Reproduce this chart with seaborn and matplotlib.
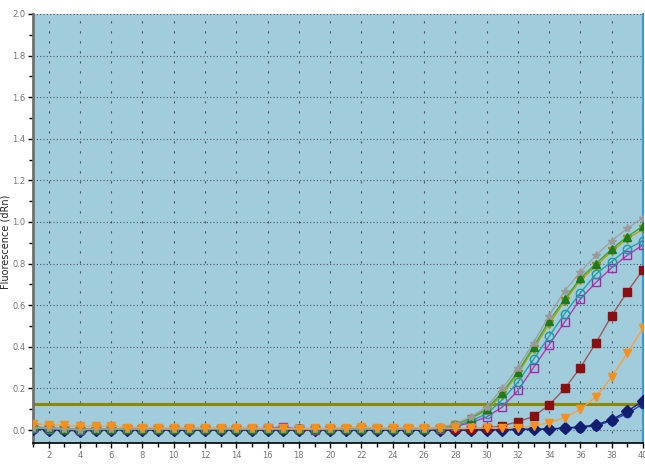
import matplotlib
matplotlib.use('Agg')
import matplotlib.pyplot as plt
import seaborn as sns
import pandas as pd
from matplotlib.ticker import MultipleLocator

cycles = list(range(1, 41))

gray_vals = [0.012, 0.008, 0.006, 0.002, 0.004, 0.006, 0.004, 0.004, 0.004, 0.004,
             0.004, 0.005, 0.005, 0.004, 0.004, 0.003, 0.006, 0.004, 0.003, 0.004,
             0.004, 0.005, 0.005, 0.004, 0.004, 0.005, 0.012, 0.030, 0.063, 0.110,
             0.200, 0.300, 0.420, 0.550, 0.670, 0.760, 0.840, 0.910, 0.970, 1.020]
green_vals = [0.015, 0.010, 0.006, 0.003, 0.005, 0.006, 0.004, 0.004, 0.004, 0.004,
              0.004, 0.004, 0.005, 0.004, 0.004, 0.003, 0.005, 0.004, 0.003, 0.004,
              0.004, 0.004, 0.005, 0.004, 0.004, 0.005, 0.010, 0.028, 0.058, 0.100,
              0.180, 0.280, 0.400, 0.525, 0.630, 0.730, 0.800, 0.870, 0.930, 0.980]
olive_vals = [0.014, 0.009, 0.006, 0.003, 0.004, 0.005, 0.004, 0.004, 0.004, 0.004,
              0.004, 0.004, 0.004, 0.004, 0.004, 0.003, 0.005, 0.004, 0.003, 0.004,
              0.004, 0.004, 0.004, 0.004, 0.004, 0.004, 0.010, 0.025, 0.055, 0.095,
              0.170, 0.270, 0.390, 0.510, 0.620, 0.720, 0.790, 0.860, 0.920, 0.965]
cyan_vals = [0.010, 0.007, 0.005, 0.001, 0.004, 0.005, 0.004, 0.004, 0.004, 0.004,
             0.004, 0.004, 0.004, 0.004, 0.004, 0.003, 0.005, 0.004, 0.003, 0.004,
             0.004, 0.004, 0.004, 0.004, 0.004, 0.004, 0.008, 0.020, 0.045, 0.077,
             0.145, 0.230, 0.340, 0.450, 0.560, 0.660, 0.750, 0.810, 0.870, 0.910]
magenta_vals = [0.008, 0.006, 0.004, 0.000, 0.003, 0.004, 0.003, 0.003, 0.003, 0.003,
                0.003, 0.004, 0.004, 0.003, 0.003, 0.008, 0.015, 0.003, 0.002, 0.003,
                0.003, 0.004, 0.004, 0.003, 0.003, 0.004, 0.006, 0.018, 0.035, 0.063,
                0.110, 0.190, 0.300, 0.410, 0.520, 0.630, 0.710, 0.780, 0.840, 0.890]
darkred_vals = [0.012, 0.008, 0.005, 0.002, 0.004, 0.005, 0.004, 0.004, 0.004, 0.004,
                0.004, 0.004, 0.004, 0.004, 0.004, 0.003, 0.005, 0.004, 0.003, 0.004,
                0.004, 0.004, 0.004, 0.004, 0.004, 0.004, 0.004, 0.005, 0.006, 0.010,
                0.020, 0.040, 0.065, 0.120, 0.200, 0.300, 0.420, 0.550, 0.665, 0.770]
orange_vals = [0.030, 0.025, 0.022, 0.018, 0.018, 0.020, 0.012, 0.012, 0.010, 0.010,
               0.010, 0.010, 0.010, 0.010, 0.010, 0.008, 0.008, 0.006, 0.008, 0.008,
               0.012, 0.014, 0.010, 0.010, 0.012, 0.010, 0.010, 0.008, 0.008, 0.010,
               0.010, 0.012, 0.020, 0.035, 0.060, 0.100, 0.160, 0.255, 0.370, 0.490]
navy_vals = [0.005, 0.002, 0.000, -0.005, 0.000, 0.002, 0.000, 0.000, 0.000, 0.000,
             0.000, 0.000, 0.000, 0.000, 0.000, 0.000, 0.000, 0.000, 0.000, 0.000,
             0.000, 0.000, 0.000, 0.000, 0.000, 0.000, 0.000, 0.000, 0.000, 0.002,
             0.002, 0.003, 0.004, 0.005, 0.010, 0.015, 0.025, 0.050, 0.090, 0.140]
blue_vals = [0.004, 0.002, 0.000, -0.004, 0.000, 0.001, 0.000, 0.000, 0.000, 0.000,
             0.000, 0.000, 0.000, 0.000, 0.000, 0.000, 0.000, 0.000, 0.000, 0.000,
             0.000, 0.000, 0.000, 0.000, 0.000, 0.000, 0.000, 0.000, 0.000, 0.001,
             0.001, 0.002, 0.003, 0.004, 0.008, 0.012, 0.020, 0.045, 0.080, 0.125]

threshold = 0.127

# name, values, line colour, marker, marker face, marker edge
series = [
    ('blue', blue_vals, '#2a3fb8', 'o', '#1f2f9a', '#1f2f9a'),
    ('navy', navy_vals, '#1a2680', 'D', '#141e70', '#141e70'),
    ('darkred', darkred_vals, '#9a5a60', 's', '#8a0f10', '#8a0f10'),
    ('magenta', magenta_vals, '#b03cb0', 's', 'none', '#a02aa8'),
    ('cyan', cyan_vals, '#22a3ad', 'o', 'none', '#1a9aa6'),
    ('olive', olive_vals, '#b8a400', 'v', '#c0a000', '#a08800'),
    ('green', green_vals, '#3aa83a', '^', '#1e7a1e', '#1e7a1e'),
    ('gray', gray_vals, '#a0a0a0', '*', '#9a9a9a', '#9a9a9a'),
    ('orange', orange_vals, '#f7a040', 'v', '#f7901a', '#f7901a'),
]

fig = plt.figure(figsize=(6.45, 4.72), dpi=100)
ax = fig.add_axes([33 / 645, 29 / 472, 610 / 645, 429 / 472])
ax.set_facecolor('#a0ccdc')

for name, vals, col, mk, mfc, mec in series:
    sns.lineplot(x=cycles, y=vals, ax=ax, color=col, lw=1.0, marker=mk,
                 markersize=6, markerfacecolor=mfc, markeredgecolor=mec,
                 markeredgewidth=1.0, zorder=3)

ax.axhline(threshold, color='#8c8800', lw=2.2, zorder=2)

ax.set_xlim(1, 40)
ax.set_ylim(-0.0625, 2.0)
ax.xaxis.set_major_locator(MultipleLocator(2))
ax.xaxis.set_minor_locator(MultipleLocator(1))
ax.yaxis.set_major_locator(MultipleLocator(0.2))
ax.yaxis.set_minor_locator(MultipleLocator(0.1))
ax.set_xticks(range(2, 41, 2))
ax.set_yticks([round(v * 0.2, 1) for v in range(11)])
ax.set_yticklabels([f'{round(v * 0.2, 1):.1f}' for v in range(11)])

ax.grid(axis='y', which='major', color='#4a5a66', ls=(0, (1, 2)), lw=0.8)
ax.grid(axis='x', which='major', color='#4a5a66', ls=(0, (2, 7)), lw=0.8)
ax.set_axisbelow(True)

ax.tick_params(axis='both', which='both', direction='out', colors='black',
               labelcolor='#777777', labelsize=6, pad=2)
ax.tick_params(axis='both', which='major', length=3.5, width=1)
ax.tick_params(axis='both', which='minor', length=3, width=1)

ax.spines['top'].set_visible(False)
ax.spines['left'].set_color('#707070')
ax.spines['left'].set_linewidth(2)
ax.spines['bottom'].set_color('black')
ax.spines['bottom'].set_linewidth(1.2)
ax.spines['right'].set_color('#3a9ae0')
ax.spines['right'].set_linewidth(1.5)

ax.set_ylabel('Fluorescence (dRn)', fontsize=7, color='#222222')
ax.yaxis.set_label_coords(-0.037, 0.47)
ax.set_xlabel('Cycles', fontsize=7, color='#222222')
ax.xaxis.set_label_coords(0.395, -0.085)

fig.savefig('out.png', dpi=100)
